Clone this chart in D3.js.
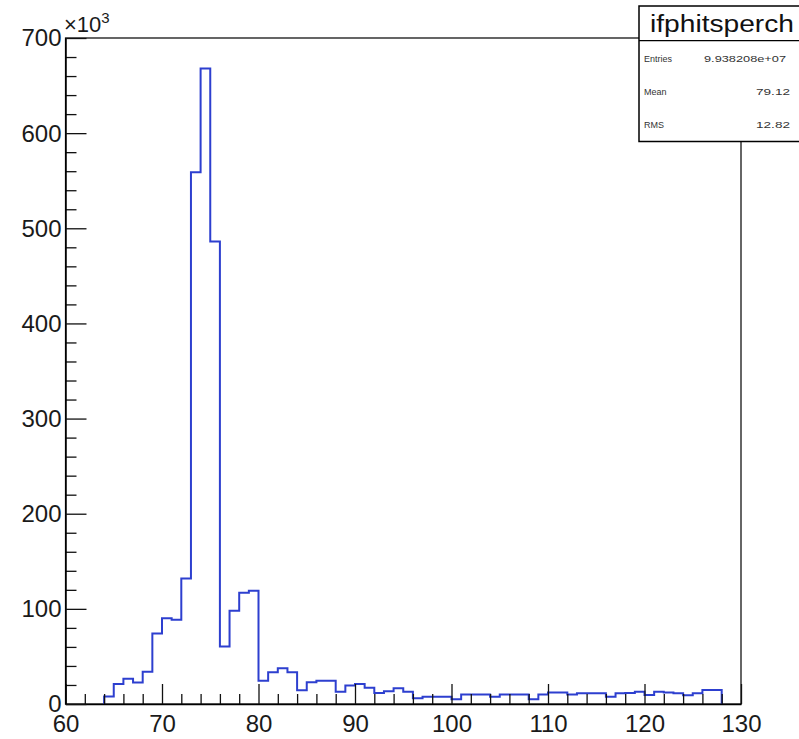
<!DOCTYPE html>
<html>
<head>
<meta charset="utf-8">
<script src="https://cdn.jsdelivr.net/npm/d3@7"></script>
<style>
  html, body { margin: 0; padding: 0; background: #fff; }
  svg { display: block; font-family: "Liberation Sans", Arial, Helvetica, sans-serif; }
</style>
</head>
<body>
<svg id="chart" width="799" height="739"></svg>
<script>
// Histogram "ifphitsperch": hits per channel, unit-width bins from 64 to 128
const binStart = 64;
const binWidth = 1;
// bin contents, in units of 10^3 entries
const counts = [
  8, 21, 26.5, 22.5, 34, 74, 90, 88.5, 132, 559,
  668, 486, 60.5, 98, 117, 119, 24.5, 33.5, 37.5, 33.5,
  14.5, 22.8, 24.5, 24.5, 13, 19.5, 21, 17, 11.5, 13.5,
  16.5, 13, 6, 7.7, 7.7, 7.7, 5, 10, 10, 10,
  7.7, 10, 10, 10, 5, 10, 12, 12, 10, 11.2,
  11.2, 11.2, 7.7, 11.2, 11.5, 13, 9.5, 13, 12.2, 11.2,
  9.3, 11.2, 14.7, 14.7
];
const xMajorTicks = [60, 70, 80, 90, 100, 110, 120, 130];
const yMajorTicks = [0, 100, 200, 300, 400, 500, 600, 700];
const statLabels = ["Entries", "Mean", "RMS"];
const statValues = ["9.938208e+07", "79.12", "12.82"];
const histName = "ifphitsperch";

const svg = d3.select("#chart");
const frame = { left: 65.5, right: 741, top: 38, bottom: 704 };

const x = d3.scaleLinear().domain([60, 130]).range([frame.left, frame.right]);
const y = d3.scaleLinear().domain([0, 700]).range([frame.bottom, frame.top]);

// frame
svg.append("rect")
  .attr("x", frame.left).attr("y", frame.top)
  .attr("width", frame.right - frame.left).attr("height", frame.bottom - frame.top)
  .attr("fill", "none").attr("stroke", "#000").attr("stroke-width", 1.2);

// histogram outline as a step path
const pts = [[binStart, 0]];
counts.forEach((c, i) => {
  const lo = binStart + i * binWidth;
  pts.push([lo, c], [lo + binWidth, c]);
});
pts.push([binStart + counts.length * binWidth, 0]);
const line = d3.line().x(d => x(d[0])).y(d => y(d[1]));
svg.append("path")
  .attr("d", line(pts))
  .attr("fill", "none")
  .attr("stroke", "#2d3fcf")
  .attr("stroke-width", 2)
  .attr("stroke-linejoin", "miter");

// x axis: major + minor ticks pointing up
const xMinor = d3.range(60, 130.01, 2).filter(v => v % 10 !== 0);
svg.append("g")
  .attr("transform", `translate(0,${frame.bottom})`)
  .call(d3.axisBottom(x).tickValues(xMinor).tickSizeInner(-10).tickSizeOuter(0).tickFormat(""))
  .call(g => g.select(".domain").remove());
const gx = svg.append("g")
  .attr("transform", `translate(0,${frame.bottom})`)
  .call(d3.axisBottom(x).tickValues(xMajorTicks).tickSizeInner(-20).tickSizeOuter(0).tickPadding(11).tickFormat(d3.format("d")));
gx.select(".domain").attr("stroke", "#000").attr("stroke-width", 1.5);
gx.selectAll("text").attr("font-size", 24).attr("fill", "#1a1a1a");

// y axis: major + minor ticks pointing right
const yMinor = d3.range(0, 700.01, 20).filter(v => v % 100 !== 0);
svg.append("g")
  .attr("transform", `translate(${frame.left},0)`)
  .call(d3.axisLeft(y).tickValues(yMinor).tickSizeInner(-11).tickSizeOuter(0).tickFormat(""))
  .call(g => g.select(".domain").remove());
const gy = svg.append("g")
  .attr("transform", `translate(${frame.left},0)`)
  .call(d3.axisLeft(y).tickValues(yMajorTicks).tickSizeInner(-21).tickSizeOuter(0).tickPadding(4).tickFormat(d3.format("d")));
gy.select(".domain").attr("stroke", "#000").attr("stroke-width", 1.5);
gy.selectAll("text").attr("font-size", 24).attr("fill", "#1a1a1a").attr("dy", "0.33em");
svg.selectAll(".tick line").attr("stroke", "#111").attr("stroke-width", 1.3);

// exponent label on the y axis
const expo = svg.append("text").attr("x", 64).attr("y", 32).attr("fill", "#1a1a1a");
expo.append("tspan").attr("font-size", 22).text("×10");
expo.append("tspan").attr("font-size", 15).attr("dy", -9).text("3");

// statistics box
const box = svg.append("g");
box.append("rect")
  .attr("x", 639).attr("y", 6).attr("width", 175).attr("height", 135.5)
  .attr("fill", "#fff").attr("stroke", "#000").attr("stroke-width", 1.5);
box.append("line")
  .attr("x1", 639).attr("x2", 799).attr("y1", 40.7).attr("y2", 40.7)
  .attr("stroke", "#000").attr("stroke-width", 1.3);
box.append("text")
  .attr("x", 650).attr("y", 31.5)
  .attr("font-size", 23).attr("fill", "#111")
  .attr("textLength", 144).attr("lengthAdjust", "spacingAndGlyphs")
  .text(histName);
const rowY = [61.5, 95, 127.5];
const valueRight = [786, 790, 790];
const valueWidth = [82, 34, 34];
statLabels.forEach((s, i) => {
  box.append("text").attr("x", 644).attr("y", rowY[i])
    .attr("font-size", 9).attr("fill", "#333").text(s);
  box.append("text").attr("x", valueRight[i] - valueWidth[i]).attr("y", rowY[i])
    .attr("font-size", 9).attr("fill", "#333")
    .attr("textLength", valueWidth[i]).attr("lengthAdjust", "spacingAndGlyphs")
    .text(statValues[i]);
});
</script>
</body>
</html>
